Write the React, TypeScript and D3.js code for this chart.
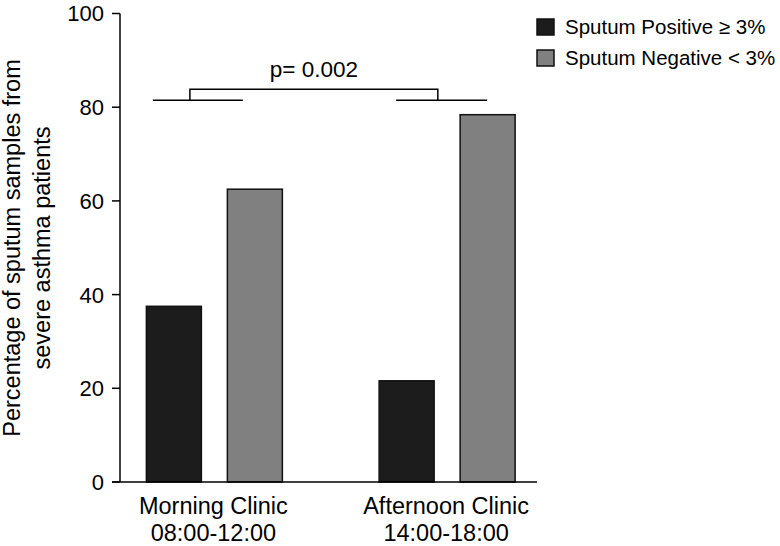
import React from "react";
import * as d3 from "d3";

const clinics = ["Morning Clinic", "Afternoon Clinic"];
const clinicHours = ["08:00-12:00", "14:00-18:00"];
const seriesNames = ["Sputum Positive \u2265 3%", "Sputum Negative < 3%"];
const seriesKeys = ["positive", "negative"];
const positiveValues = [37.5, 21.6];
const negativeValues = [62.5, 78.4];
const yTicks = [0, 20, 40, 60, 80, 100];
const pValueLabel = "p= 0.002";
const yLabelLines = ["Percentage of sputum samples from", "severe asthma patients"];

const W = 780;
const H = 546;
const FONT = "'Liberation Sans', Arial, Helvetica, sans-serif";
const colors = ["#1c1c1c", "#808080"];

export default function App() {
  const axisX = 120;
  const y = d3.scaleLinear().domain([0, 100]).range([482, 13.5]);
  const x0 = d3.scaleBand<string>().domain(clinics).range([98, 563.5]).padding(0);
  const x1 = d3
    .scaleBand<string>()
    .domain(seriesKeys)
    .range([-68, 68])
    .paddingInner(26 / 81)
    .paddingOuter(0);
  const values = [positiveValues, negativeValues];
  const center = (i: number) => (x0(clinics[i]) as number) + x0.bandwidth() / 2;

  // bracket geometry
  const c0 = center(0);
  const c1 = center(1);
  const lowY = y(81.5);
  const topY = y(83.85);
  const leftV = c0 - 24.5;
  const rightV = c1 - 9.3;

  return (
    <svg
      width={W}
      height={H}
      style={{ position: "absolute", left: 0, top: 0, background: "#fff" }}
      fontFamily={FONT}
    >
      {/* bars */}
      {clinics.map((c, i) =>
        seriesKeys.map((k, j) => {
          const v = values[j][i];
          const bx = center(i) + (x1(k) as number);
          return (
            <rect
              key={c + k}
              x={bx}
              y={y(v)}
              width={x1.bandwidth()}
              height={y(0) - y(v)}
              fill={colors[j]}
              stroke="#111"
              strokeWidth={1.5}
            />
          );
        })
      )}

      {/* y axis */}
      <line x1={axisX} x2={axisX} y1={y(100)} y2={y(0)} stroke="#000" strokeWidth={1.5} />
      {yTicks.map((t) => (
        <g key={t}>
          <line x1={axisX - 8} x2={axisX} y1={y(t)} y2={y(t)} stroke="#000" strokeWidth={1.5} />
          <text
            x={axisX - 16}
            y={y(t)}
            dy="0.36em"
            textAnchor="end"
            fontSize={22}
            fill="#000"
          >
            {t}
          </text>
        </g>
      ))}
      {/* x axis */}
      <line x1={axisX - 8} x2={537} y1={y(0)} y2={y(0)} stroke="#000" strokeWidth={1.5} />

      {/* category labels */}
      {clinics.map((c, i) => (
        <g key={c}>
          <text x={center(i) - 1} y={514} textAnchor="middle" fontSize={23.5} fill="#000">
            {c}
          </text>
          <text x={center(i) - 1} y={541} textAnchor="middle" fontSize={23.5} fill="#000">
            {clinicHours[i]}
          </text>
        </g>
      ))}

      {/* y label */}
      <g transform={`translate(20, 248) rotate(-90)`}>
        <text x={0} y={0} textAnchor="middle" fontSize={23.5} fill="#000">
          {yLabelLines[0]}
        </text>
        <text x={0} y={30} textAnchor="middle" fontSize={23.5} fill="#000">
          {yLabelLines[1]}
        </text>
      </g>

      {/* significance bracket */}
      <g stroke="#000" strokeWidth={1.5} fill="none">
        <line x1={c0 - 61.5} x2={c0 + 28.5} y1={lowY} y2={lowY} />
        <line x1={c1 - 51} x2={c1 + 40} y1={lowY} y2={lowY} />
        <polyline points={`${leftV},${lowY} ${leftV},${topY} ${rightV},${topY} ${rightV},${lowY}`} />
      </g>
      <text x={(leftV + rightV) / 2} y={76.5} textAnchor="middle" fontSize={22.5} fill="#000">
        {pValueLabel}
      </text>

      {/* legend */}
      {seriesNames.map((s, j) => (
        <g key={s} transform={`translate(537, ${19 + j * 31})`}>
          <rect x={0} y={0} width={17} height={16} fill={colors[j]} stroke="#111" strokeWidth={1.5} />
          <text x={28} y={15} fontSize={20.5} fill="#000">
            {s}
          </text>
        </g>
      ))}
    </svg>
  );
}
